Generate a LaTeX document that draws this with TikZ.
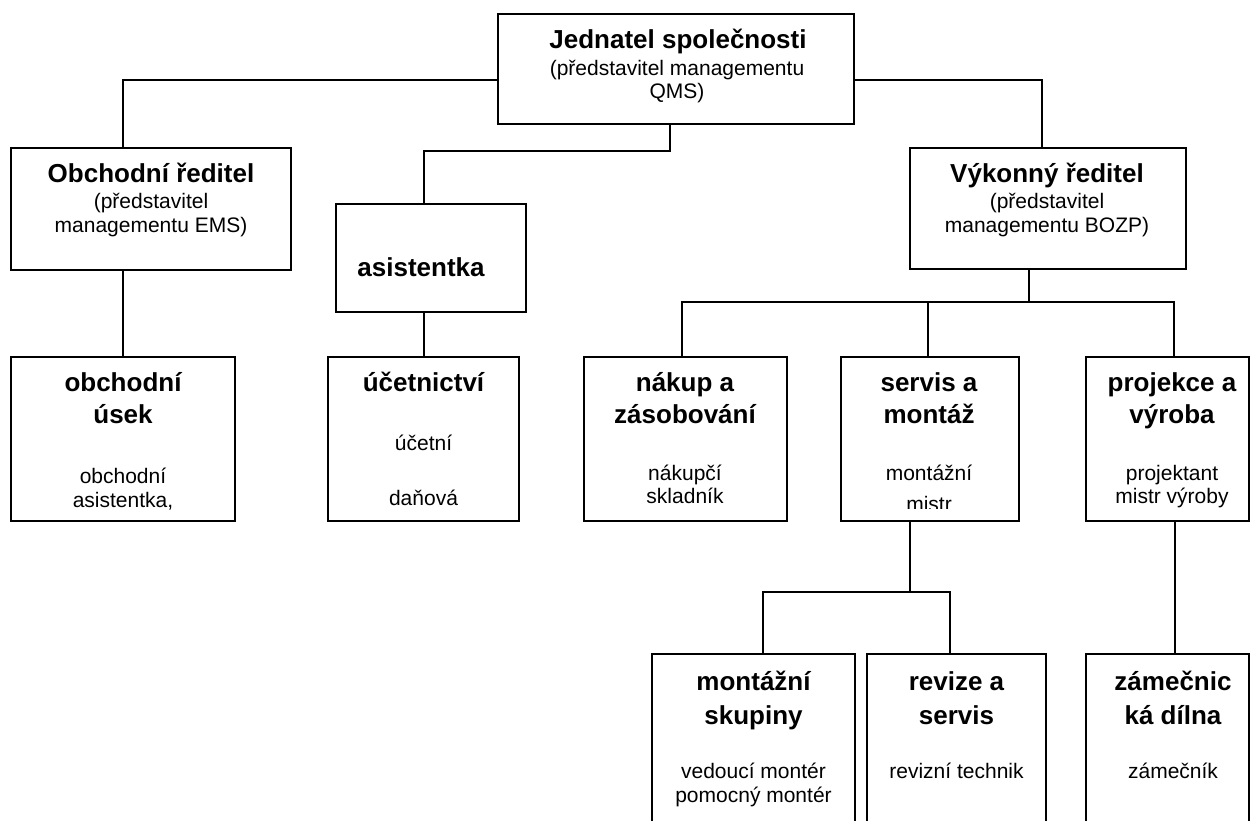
\documentclass[tikz,border=0pt]{standalone}
\usepackage{fontspec}
\setmainfont{Liberation Sans}
\usetikzlibrary{calc}
\begin{document}
\begin{tikzpicture}[x=1pt,y=-1pt,
  box/.style={draw, line width=1.7pt, rectangle, inner sep=0pt, line join=miter},
  bt/.style={font=\bfseries\fontsize{26}{30}\selectfont, anchor=base, inner sep=0pt},
  rt/.style={font=\fontsize{21}{25}\selectfont, anchor=base, inner sep=0pt},
  wire/.style={line width=1.7pt, line join=miter}]
\fill[white] (0,0) rectangle (1250,821);
\useasboundingbox (0,0) rectangle (1250,821);

% boxes
\node[box, minimum width=356pt, minimum height=110pt] (jed) at (676,69) {};
\node[box, minimum width=280pt, minimum height=122pt] (obr) at (151,209) {};
\node[box, minimum width=190pt, minimum height=108pt] (asi) at (431,258) {};
\node[box, minimum width=276pt, minimum height=121pt] (vyk) at (1048,208.5) {};
\node[box, minimum width=224pt, minimum height=164pt] (obu) at (123,439) {};
\node[box, minimum width=191pt, minimum height=164pt] (uce) at (423.5,439) {};
\node[box, minimum width=203pt, minimum height=164pt] (nak) at (685.5,439) {};
\node[box, minimum width=178pt, minimum height=164pt] (ser) at (930,439) {};
\node[box, minimum width=163pt, minimum height=164pt] (pro) at (1167.5,439) {};
\node[box, minimum width=203pt, minimum height=176pt] (mon) at (753.5,742) {};
\node[box, minimum width=179pt, minimum height=176pt] (rev) at (956.5,742) {};
\node[box, minimum width=163pt, minimum height=176pt] (zam) at (1167.5,742) {};

% junction coordinates
\coordinate (j1) at (123,80);
\coordinate (j2a) at (670,151);
\coordinate (j2b) at (424,151);
\coordinate (j3) at (1042,80);
\coordinate (j4) at (1029,302);
\coordinate (j4a) at (682,302);
\coordinate (j4b) at (928,302);
\coordinate (j4c) at (1174,302);
\coordinate (j5) at (910,592);
\coordinate (j5a) at (763,592);
\coordinate (j5b) at (950,592);
\coordinate (j6) at (1175,600);

% connectors
\draw[wire] (jed.west |- j1) -- (j1) -- (obr.north -| j1);
\draw[wire] (jed.south -| j2a) -- (j2a) -- (j2b) -- (asi.north -| j2b);
\draw[wire] (jed.east |- j3) -- (j3) -- (vyk.north -| j3);
\draw[wire] (obr.south -| j1) -- (obu.north -| j1);
\draw[wire] (asi.south -| j2b) -- (uce.north -| j2b);
\draw[wire] (vyk.south -| j4) -- (j4);
\draw[wire] (nak.north -| j4a) -- (j4a) -- (j4c) -- (pro.north -| j4c);
\draw[wire] (j4b) -- (ser.north -| j4b);
\draw[wire] (ser.south -| j5) -- (j5);
\draw[wire] (mon.north -| j5a) -- (j5a) -- (j5b) -- (rev.north -| j5b);
\draw[wire] (pro.south -| j6) -- (zam.north -| j6);

% texts
\node[bt] (t1) at (678,49) {Jednatel společnosti};
\node[rt] (t2) at (677,76) {(představitel managementu};
\node[rt] (t3) at (677,99) {QMS)};

\node[bt] (t4) at (151,183) {Obchodní ředitel};
\node[rt] (t5) at (151,209) {(představitel};
\node[rt] (t6) at (151,233) {managementu EMS)};

\node[bt] (t7) at (1047,183) {Výkonný ředitel};
\node[rt] (t8) at (1047,209) {(představitel};
\node[rt] (t9) at (1047,233) {managementu BOZP)};

\node[bt] (t10) at (421,276) {asistentka};

\node[bt] (t11) at (123,391) {obchodní};
\node[bt] (t12) at (123,423) {úsek};
\node[rt] (t13) at (123,483) {obchodní};
\node[rt] (t14) at (123,507) {asistentka,};

\node[bt] (t15) at (423.5,391) {účetnictví};
\node[rt] (t16) at (423.5,450) {účetní};
\node[rt] (t17) at (423.5,505) {daňová};

\node[bt] (t18) at (685,391) {nákup a};
\node[bt] (t19) at (685,423) {zásobování};
\node[rt] (t20) at (685,480) {nákupčí};
\node[rt] (t21) at (685,503) {skladník};

\node[bt] (t22) at (929,391) {servis a};
\node[bt] (t23) at (929,423) {montáž};
\node[rt] (t24) at (929,480) {montážní};
\begin{scope}
\clip (841,357) rectangle (1019,508);
\node[rt] (t25) at (929,511) {mistr};
\end{scope}

\node[bt] (t26) at (1172,391) {projekce a};
\node[bt] (t27) at (1172,423) {výroba};
\node[rt] (t28) at (1172,480) {projektant};
\node[rt] (t29) at (1172,503) {mistr výroby};

\node[bt] (t30) at (753.5,690) {montážní};
\node[bt] (t31) at (753.5,724) {skupiny};
\node[rt] (t32) at (753.5,778) {vedoucí montér};
\node[rt] (t33) at (753.5,802) {pomocný montér};

\node[bt] (t34) at (956.5,690) {revize a};
\node[bt] (t35) at (956.5,724) {servis};
\node[rt] (t36) at (956.5,778) {revizní technik};

\node[bt] (t37) at (1173,690) {zámečnic};
\node[bt] (t38) at (1173,724) {ká dílna};
\node[rt] (t39) at (1173,778) {zámečník};
\end{tikzpicture}
\end{document}
